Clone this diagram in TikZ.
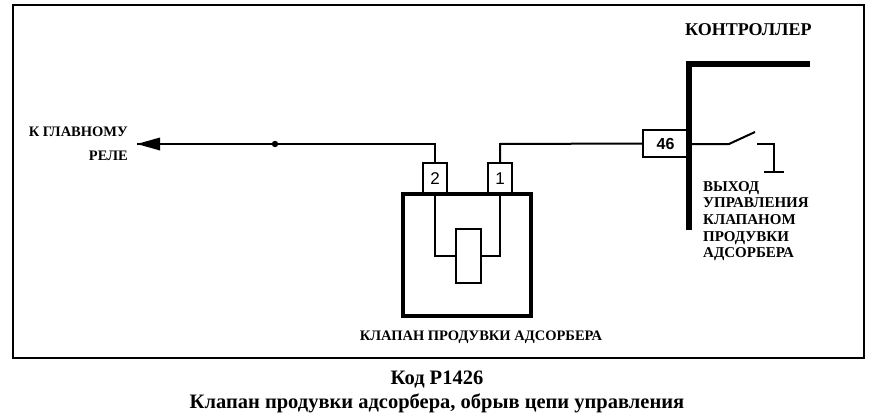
\documentclass[tikz,border=0pt]{standalone}
\usepackage{fontspec}
\setmainfont{Liberation Serif}
\newfontfamily\pinfont{Liberation Sans}
\begin{document}
\begin{tikzpicture}[x=1pt,y=-1pt,
  lbl/.style={inner sep=0},
  pin/.style={draw,line width=2.4pt,font=\pinfont\fontsize{17}{17}\selectfont,inner sep=0},
  w/.style={line width=2pt}]
\useasboundingbox (0,0) rectangle (876,420);
\draw[line width=1.1pt] (13,5) rectangle (864,358);
% valve
\draw[line width=4pt] (403,194) rectangle (531,316);
\node[pin,minimum width=24pt,minimum height=31pt] (p2) at (435,178.5) {2};
\node[pin,minimum width=24pt,minimum height=31pt] (p1) at (500,178.5) {1};
\node[draw,line width=2.2pt,minimum width=25pt,minimum height=54pt,inner sep=0] (coil) at (468.5,256) {};
\draw[w] (p2.south) -- (435,256) -- (coil.west);
\draw[w] (p1.south) -- (500,256) -- (coil.east);
% leads
\coordinate (arr) at (137,144);
\coordinate (dot) at (275,144);
\draw[w] (p2.north) -- (435,144) -- (arr);
\fill (dot) circle (3.2pt);
\fill (137,144) -- (160,137.5) -- (160,150.5) -- cycle;
\node[pin,minimum width=45pt,minimum height=27pt,font=\pinfont\bfseries\fontsize{16}{16}\selectfont] (c46) at (665.5,143.5) {46};
\draw[w] (p1.north) -- (500,144) -- (c46.west);
% controller bar
\draw[line width=6pt] (810,64) -- (689,64) -- (689,230);
\coordinate (s0) at (689,144);
\coordinate (s1) at (729,144);
\coordinate (s2) at (755,132);
\draw[w] (s0) -- (s1) -- (s2);
\draw[w] (757,144) -- (774,144) -- (774,172);
\draw[w] (764,172) -- (784,172);
% texts
\node[lbl,anchor=west,font=\bfseries\fontsize{18}{20}\selectfont] (ctl) at (685,30) {КОНТРОЛЛЕР};
\node[lbl,anchor=north west,align=left,font=\bfseries\fontsize{15}{16.7}\selectfont] (out) at (703,181) {ВЫХОД\\УПРАВЛЕНИЯ\\КЛАПАНОМ\\ПРОДУВКИ\\АДСОРБЕРА};
\node[lbl,anchor=east,align=right,font=\bfseries\fontsize{14.5}{24}\selectfont] (rel) at (128,144) {К ГЛАВНОМУ\\РЕЛЕ};
\node[lbl,font=\bfseries\fontsize{14.5}{15}\selectfont] (cap) at (481,337) {КЛАПАН ПРОДУВКИ АДСОРБЕРА};
\node[lbl,align=center,font=\bfseries\fontsize{20.5}{24}\selectfont] (title) at (437,392) {Код P1426\\Клапан продувки адсорбера, обрыв цепи управления};
\end{tikzpicture}
\end{document}
